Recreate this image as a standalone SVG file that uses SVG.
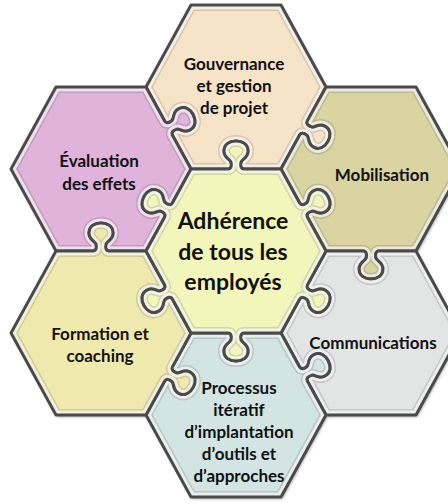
<svg xmlns="http://www.w3.org/2000/svg" xmlns:xlink="http://www.w3.org/1999/xlink" width="448" height="504" viewBox="0 0 448 504">
<style>
.hl{fill:none;stroke:#fff;stroke-opacity:.7;stroke-width:9}
.dk{fill:none;stroke:#000;stroke-opacity:.13;stroke-width:12}
.ol{fill:none;stroke:#4a4a4a;stroke-width:3;stroke-linejoin:round}
.t{font-family:Lato,'Liberation Sans',sans-serif;font-weight:700;font-size:17px;fill:#111;text-anchor:middle}
.tc{font-size:23px}
</style>
<defs>
<filter id="blur" x="-10%" y="-10%" width="120%" height="120%"><feGaussianBlur stdDeviation="1.6"/></filter>
<path id="s-center" d="M146,251 L164.7,217 c1.4,-2.6 -0.7,-5 -4.7,-6 c-3.1,-0.6 -6.9,4.2 -13,0.8 c-6.1,-3.4 -5.9,-10.1 -3,-15.3 c2.9,-5.3 8.4,-9.1 14.5,-5.7 c6.1,3.4 4.1,9.1 6.3,11.4 c3,2.8 6.1,3.4 7.6,0.7 L191,169 L228,169 c3,0 4,-3 3,-7 c-1,-3 -7,-4 -7,-11 c0,-7 6,-10 12,-10 c6,0 12,3 12,10 c0,7 -6,8 -7,11 c-1,4 0,7 3,7 L281,169 L299.6,203 c1.4,2.6 4.6,2.1 7.6,-0.7 c2.1,-2.3 0.1,-8.1 6.3,-11.4 c6.1,-3.4 11.7,0.4 14.5,5.7 c2.9,5.3 3.1,12 -3,15.3 c-6.1,3.4 -9.9,-1.4 -13,-0.8 c-4,1 -6.1,3.4 -4.7,6 L326,251 L307.4,285 c-1.4,2.6 0.7,5 4.7,6 c3.1,0.6 6.9,-4.2 13,-0.8 c6.1,3.4 5.9,10.1 3,15.3 c-2.9,5.3 -8.4,9.1 -14.5,5.7 c-6.1,-3.4 -4.1,-9.1 -6.3,-11.4 c-3,-2.8 -6.1,-3.4 -7.6,-0.7 L281,333 L244,333 c-3,0 -4,3 -3,7 c1,3 7,4 7,11 c0,7 -6,10 -12,10 c-6,0 -12,-3 -12,-10 c0,-7 6,-8 7,-11 c1,-4 0,-7 -3,-7 L191,333 L172.4,299 c-1.4,-2.6 -4.6,-2.1 -7.6,0.7 c-2.1,2.3 -0.1,8.1 -6.3,11.4 c-6.1,3.4 -11.7,-0.4 -14.5,-5.7 c-2.9,-5.3 -3.1,-12 3,-15.3 c6.1,-3.4 9.9,1.4 13,0.8 c4,-1 6.1,-3.4 4.7,-6 Z"/>
<path id="s-gouv" d="M146,87 L191,5 L281,5 L326,87 L307.4,121 c-1.4,2.6 0.7,5 4.7,6 c3.1,0.6 6.9,-4.2 13,-0.8 c6.1,3.4 5.9,10.1 3,15.3 c-2.9,5.3 -8.4,9.1 -14.5,5.7 c-6.1,-3.4 -4.1,-9.1 -6.3,-11.4 c-3,-2.8 -6.1,-3.4 -7.6,-0.7 L281,169 L244,169 c-3,0 -4,-3 -3,-7 c1,-3 7,-4 7,-11 c0,-7 -6,-10 -12,-10 c-6,0 -12,3 -12,10 c0,7 6,8 7,11 c1,4 0,7 -3,7 L191,169 L172.4,135 c-1.4,-2.6 0.7,-5 4.7,-6 c3.1,-0.6 6.9,4.2 13,0.8 c6.1,-3.4 5.9,-10.1 3,-15.3 c-2.9,-5.3 -8.4,-9.1 -14.5,-5.7 c-6.1,3.4 -4.1,9.1 -6.3,11.4 c-3,2.8 -6.1,3.4 -7.6,0.7 Z"/>
<path id="s-mob" d="M281,169 L299.6,135 c1.4,-2.6 4.6,-2.1 7.6,0.7 c2.1,2.3 0.1,8.1 6.3,11.4 c6.1,3.4 11.7,-0.4 14.5,-5.7 c2.9,-5.3 3.1,-12 -3,-15.3 c-6.1,-3.4 -9.9,1.4 -13,0.8 c-4,-1 -6.1,-3.4 -4.7,-6 L326,87 L416,87 L461,169 L416,251 L379,251 c-3,0 -4,3 -3,7 c1,3 7,4 7,11 c0,7 -6,10 -12,10 c-6,0 -12,-3 -12,-10 c0,-7 6,-8 7,-11 c1,-4 0,-7 -3,-7 L326,251 L307.4,217 c-1.4,-2.6 0.7,-5 4.7,-6 c3.1,-0.6 6.9,4.2 13,0.8 c6.1,-3.4 5.9,-10.1 3,-15.3 c-2.9,-5.3 -8.4,-9.1 -14.5,-5.7 c-6.1,3.4 -4.1,9.1 -6.3,11.4 c-3,2.8 -6.1,3.4 -7.6,0.7 Z"/>
<path id="s-comm" d="M281,333 L299.6,299 c1.4,-2.6 4.6,-2.1 7.6,0.7 c2.1,2.3 0.1,8.1 6.3,11.4 c6.1,3.4 11.7,-0.4 14.5,-5.7 c2.9,-5.3 3.1,-12 -3,-15.3 c-6.1,-3.4 -9.9,1.4 -13,0.8 c-4,-1 -6.1,-3.4 -4.7,-6 L326,251 L363,251 c3,0 4,3 3,7 c-1,3 -7,4 -7,11 c0,7 6,10 12,10 c6,0 12,-3 12,-10 c0,-7 -6,-8 -7,-11 c-1,-4 0,-7 3,-7 L416,251 L461,333 L416,415 L326,415 L307.4,381 c-1.4,-2.6 0.7,-5 4.7,-6 c3.1,-0.6 6.9,4.2 13,0.8 c6.1,-3.4 5.9,-10.1 3,-15.3 c-2.9,-5.3 -8.4,-9.1 -14.5,-5.7 c-6.1,3.4 -4.1,9.1 -6.3,11.4 c-3,2.8 -6.1,3.4 -7.6,0.7 Z"/>
<path id="s-proc" d="M146,415 L164.6,381 c1.4,-2.6 4.6,-2.1 7.6,0.7 c2.1,2.3 0.1,8.1 6.3,11.4 c6.1,3.4 11.7,-0.4 14.5,-5.7 c2.9,-5.3 3.1,-12 -3,-15.3 c-6.1,-3.4 -9.9,1.4 -13,0.8 c-4,-1 -6.1,-3.4 -4.7,-6 L191,333 L228,333 c3,0 4,3 3,7 c-1,3 -7,4 -7,11 c0,7 6,10 12,10 c6,0 12,-3 12,-10 c0,-7 -6,-8 -7,-11 c-1,-4 0,-7 3,-7 L281,333 L299.6,367 c1.4,2.6 4.6,2.1 7.6,-0.7 c2.1,-2.3 0.1,-8.1 6.3,-11.4 c6.1,-3.4 11.7,0.4 14.5,5.7 c2.9,5.3 3.1,12 -3,15.3 c-6.1,3.4 -9.9,-1.4 -13,-0.8 c-4,1 -6.1,3.4 -4.7,6 L326,415 L281,497 L191,497 Z"/>
<path id="s-form" d="M11,333 L56,251 L93,251 c3,0 4,-3 3,-7 c-1,-3 -7,-4 -7,-11 c0,-7 6,-10 12,-10 c6,0 12,3 12,10 c0,7 -6,8 -7,11 c-1,4 0,7 3,7 L146,251 L164.6,285 c1.4,2.6 -0.7,5 -4.7,6 c-3.1,0.6 -6.9,-4.2 -13,-0.8 c-6.1,3.4 -5.9,10.1 -3,15.3 c2.9,5.3 8.4,9.1 14.5,5.7 c6.1,-3.4 4.1,-9.1 6.3,-11.4 c3,-2.8 6.1,-3.4 7.6,-0.7 L191,333 L172.4,367 c-1.4,2.6 0.7,5 4.7,6 c3.1,0.6 6.9,-4.2 13,-0.8 c6.1,3.4 5.9,10.1 3,15.3 c-2.9,5.3 -8.4,9.1 -14.5,5.7 c-6.1,-3.4 -4.1,-9.1 -6.3,-11.4 c-3,-2.8 -6.1,-3.4 -7.6,-0.7 L146,415 L56,415 Z"/>
<path id="s-eval" d="M11,169 L56,87 L146,87 L164.6,121 c1.4,2.6 4.6,2.1 7.6,-0.7 c2.1,-2.3 0.1,-8.1 6.3,-11.4 c6.1,-3.4 11.7,0.4 14.5,5.7 c2.9,5.3 3.1,12 -3,15.3 c-6.1,3.4 -9.9,-1.4 -13,-0.8 c-4,1 -6.1,3.4 -4.7,6 L191,169 L172.4,203 c-1.4,2.6 -4.6,2.1 -7.6,-0.7 c-2.1,-2.3 -0.1,-8.1 -6.3,-11.4 c-6.1,-3.4 -11.7,0.4 -14.5,5.7 c-2.9,5.3 -3.1,12 3,15.3 c6.1,3.4 9.9,-1.4 13,-0.8 c4,1 6.1,3.4 4.7,6 L146,251 L109,251 c-3,0 -4,-3 -3,-7 c1,-3 7,-4 7,-11 c0,-7 -6,-10 -12,-10 c-6,0 -12,3 -12,10 c0,7 6,8 7,11 c1,4 0,7 -3,7 L56,251 Z"/>
<clipPath id="c-center"><use xlink:href="#s-center"/></clipPath>
<clipPath id="c-gouv"><use xlink:href="#s-gouv"/></clipPath>
<clipPath id="c-mob"><use xlink:href="#s-mob"/></clipPath>
<clipPath id="c-comm"><use xlink:href="#s-comm"/></clipPath>
<clipPath id="c-proc"><use xlink:href="#s-proc"/></clipPath>
<clipPath id="c-form"><use xlink:href="#s-form"/></clipPath>
<clipPath id="c-eval"><use xlink:href="#s-eval"/></clipPath>
</defs>
<g id="shadow" transform="translate(1.5,2)" filter="url(#blur)" opacity=".45" fill="#444">
<use xlink:href="#s-center"/><use xlink:href="#s-gouv"/><use xlink:href="#s-mob"/><use xlink:href="#s-comm"/><use xlink:href="#s-proc"/><use xlink:href="#s-form"/><use xlink:href="#s-eval"/>
</g>
<g id="gouvernance">
<use xlink:href="#s-gouv" fill="#f7e3c8"/>
<g clip-path="url(#c-gouv)"><use xlink:href="#s-gouv" class="dk"/><use xlink:href="#s-gouv" class="hl"/></g>
<use xlink:href="#s-gouv" class="ol"/>
<text class="t" x="234" y="70">Gouvernance</text>
<text class="t" x="234" y="92">et gestion</text>
<text class="t" x="234" y="114">de projet</text>
</g>
<g id="evaluation">
<use xlink:href="#s-eval" fill="#e0b3da"/>
<g clip-path="url(#c-eval)"><use xlink:href="#s-eval" class="dk"/><use xlink:href="#s-eval" class="hl"/></g>
<use xlink:href="#s-eval" class="ol"/>
<text class="t" x="99" y="167">Évaluation</text>
<text class="t" x="99" y="190">des effets</text>
</g>
<g id="mobilisation">
<use xlink:href="#s-mob" fill="#d9d4a2"/>
<g clip-path="url(#c-mob)"><use xlink:href="#s-mob" class="dk"/><use xlink:href="#s-mob" class="hl"/></g>
<use xlink:href="#s-mob" class="ol"/>
<text class="t" x="382" y="181">Mobilisation</text>
</g>
<g id="communications">
<use xlink:href="#s-comm" fill="#e3e5e5"/>
<g clip-path="url(#c-comm)"><use xlink:href="#s-comm" class="dk"/><use xlink:href="#s-comm" class="hl"/></g>
<use xlink:href="#s-comm" class="ol"/>
<text class="t" x="373" y="349">Communications</text>
</g>
<g id="processus">
<use xlink:href="#s-proc" fill="#d2e5e3"/>
<g clip-path="url(#c-proc)"><use xlink:href="#s-proc" class="dk"/><use xlink:href="#s-proc" class="hl"/></g>
<use xlink:href="#s-proc" class="ol"/>
<text class="t" x="239" y="394">Processus</text>
<text class="t" x="239" y="416">itératif</text>
<text class="t" x="239" y="438">d’implantation</text>
<text class="t" x="239" y="460">d’outils et</text>
<text class="t" x="239" y="482">d’approches</text>
</g>
<g id="formation">
<use xlink:href="#s-form" fill="#f0e9ae"/>
<g clip-path="url(#c-form)"><use xlink:href="#s-form" class="dk"/><use xlink:href="#s-form" class="hl"/></g>
<use xlink:href="#s-form" class="ol"/>
<text class="t" x="100" y="340">Formation et</text>
<text class="t" x="100" y="362">coaching</text>
</g>
<g id="adherence">
<use xlink:href="#s-center" fill="#f3f6bb"/>
<g clip-path="url(#c-center)"><use xlink:href="#s-center" class="dk"/><use xlink:href="#s-center" class="hl"/></g>
<use xlink:href="#s-center" class="ol"/>
<text class="t tc" x="233" y="229">Adhérence</text>
<text class="t tc" x="233" y="260">de tous les</text>
<text class="t tc" x="233" y="290">employés</text>
</g>
</svg>
